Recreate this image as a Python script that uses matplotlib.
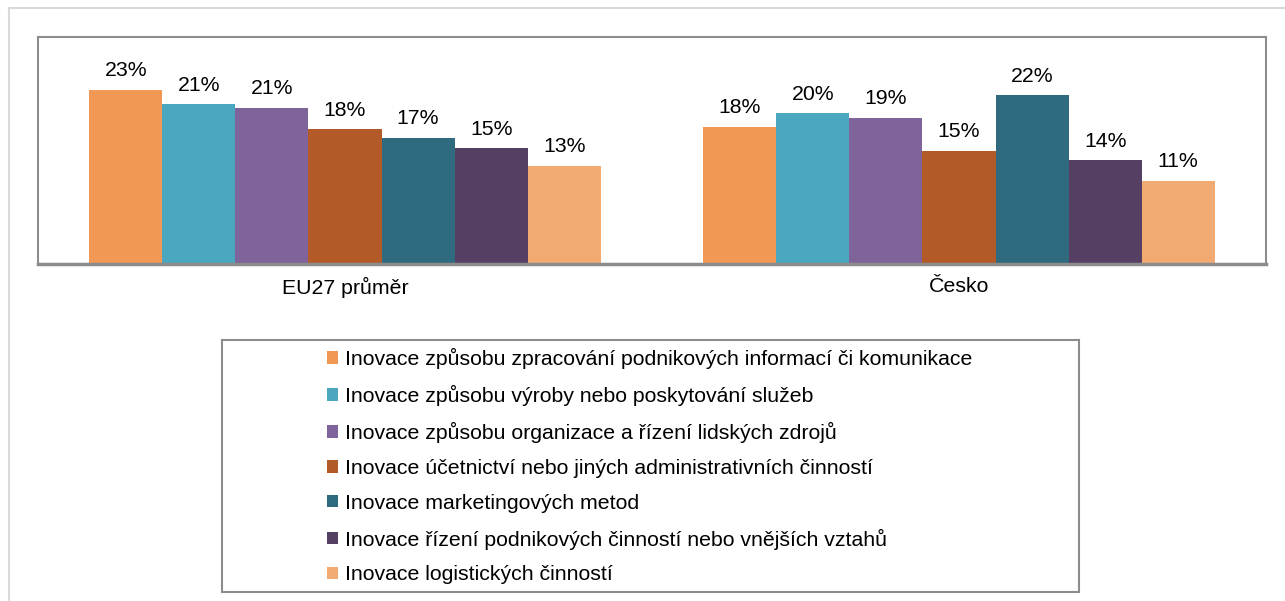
import matplotlib
matplotlib.use('Agg')
from matplotlib import pyplot as plt
from matplotlib.patches import Patch, Rectangle
from matplotlib.lines import Line2D
import numpy as np

plt.rcParams['font.family'] = ['Liberation Sans', 'DejaVu Sans']

# data
skupiny = ['EU27 průměr', 'Česko']
kategorie = [
    'Inovace způsobu zpracování podnikových informací či komunikace',
    'Inovace způsobu výroby nebo poskytování služeb',
    'Inovace způsobu organizace a řízení lidských zdrojů',
    'Inovace účetnictví nebo jiných administrativních činností',
    'Inovace marketingových metod',
    'Inovace řízení podnikových činností nebo vnějších vztahů',
    'Inovace logistických činností',
]
eu27 = [23.0, 21.1, 20.6, 17.8, 16.7, 15.3, 13.0]
cesko = [18.1, 19.9, 19.3, 15.0, 22.3, 13.7, 11.0]
barvy = ['#F09854', '#4BA7C0', '#7F649B', '#B25B29', '#306A7E', '#553F63', '#F2AA73']

fs = 15.3

fig = plt.figure(figsize=(12.85, 6.01), dpi=100)
ax = fig.add_axes([38/1285, 337/601, 1228/1285, 227/601])

sirka = 0.119
x = np.arange(len(skupiny))
for i, (nazev, barva) in enumerate(zip(kategorie, barvy)):
    hodnoty = [eu27[i], cesko[i]]
    pozice = x + (i - 3) * sirka
    ax.bar(pozice, hodnoty, width=sirka, color=barva, label=nazev)
    for px, v in zip(pozice, hodnoty):
        ax.annotate(f'{round(v):.0f}%', (px, v), xytext=(0, 7), textcoords='offset points',
                    ha='center', va='bottom', fontsize=fs)

ax.set_xlim(-0.5, 1.5)
ax.set_ylim(0, 30)
ax.set_yticks([])
ax.set_xticks(x)
ax.set_xticklabels(skupiny, fontsize=fs)
ax.tick_params(axis='x', length=0, pad=9)
for s in ['top', 'left', 'right']:
    ax.spines[s].set_color('#8C8C8C')
    ax.spines[s].set_linewidth(1.5)
ax.spines['bottom'].set_color('#8C8C8C')
ax.spines['bottom'].set_linewidth(2.5)

# vnejsi okraj
fig.add_artist(Line2D([9/1285, 1], [1 - 8/601, 1 - 8/601], color='#D9D9D9', lw=1.5))
fig.add_artist(Line2D([9/1285, 9/1285], [0, 1 - 8/601], color='#D9D9D9', lw=1.5))

# legenda
fig.add_artist(Rectangle((222/1285, 1 - 592/601), 857/1285, 252/601, transform=fig.transFigure,
                         fill=False, edgecolor='#8C8C8C', lw=1.5))
handles = [Patch(facecolor=b, edgecolor='none') for b in barvy]
fig.legend(handles, kategorie, loc='upper left', bbox_to_anchor=(316/1285, 1 - 337/601),
           frameon=False, fontsize=fs, handlelength=0.55, handleheight=0.55,
           handletextpad=0.3, labelspacing=0.75, borderpad=0)

plt.savefig('out.png', dpi=100)
